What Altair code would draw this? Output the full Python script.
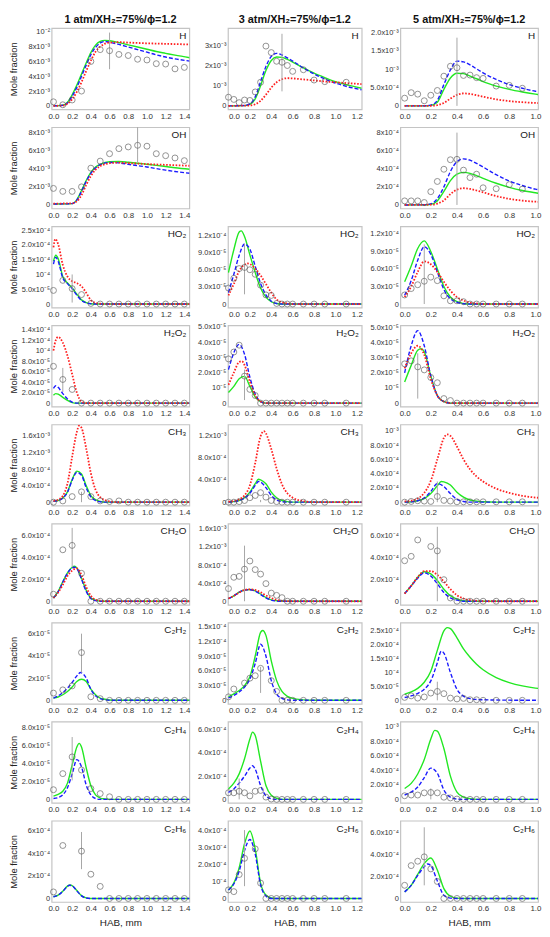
import altair as alt
import pandas as pd

COL_TITLES = ["1 atm/XH₂=75%/ϕ=1.2", "3 atm/XH₂=75%/ϕ=1.2", "5 atm/XH₂=75%/ϕ=1.2"]
PRESSURES = [1, 3, 5]
SPECIES = ["H", "OH", "HO2", "H2O2", "CH3", "CH2O", "C2H2", "C2H4", "C2H6"]
SPECIES_LABELS = ["H", "OH", "HO₂", "H₂O₂", "CH₃", "CH₂O", "C₂H₂", "C₂H₄", "C₂H₆"]

EXP_X_1 = [0.0, 0.1, 0.2, 0.3, 0.4, 0.5, 0.6, 0.7, 0.8, 0.9, 1.0, 1.1, 1.2, 1.3, 1.4]
EXP_X_3 = [0.0, 0.05, 0.1, 0.15, 0.2, 0.25, 0.3, 0.35, 0.4, 0.45, 0.5, 0.55, 0.6, 0.7, 0.8, 0.9, 1.1]
EXP_X_5 = [0.0, 0.05, 0.1, 0.15, 0.2, 0.25, 0.3, 0.35, 0.4, 0.45, 0.5, 0.55, 0.6, 0.7, 0.8, 0.9]
X_TICKS_1 = [0.0, 0.2, 0.4, 0.6, 0.8, 1.0, 1.2, 1.4]
X_TICKS_3 = [0.0, 0.2, 0.4, 0.6, 0.8, 1.0, 1.2]
X_TICKS_5 = [0.0, 0.2, 0.4, 0.6, 0.8, 1.0]
X_RANGE_1 = [-0.02, 1.453]
X_RANGE_3 = [-0.005, 1.245]
X_RANGE_5 = [-0.033, 1.02]

# ---------------- H (1e-3 / 1e-3 / 1e-4) ----------------
H_1_ticks = [0, 2, 4, 6, 8, 10]
H_1_labels = ["0", "2x10⁻³", "4x10⁻³", "6x10⁻³", "8x10⁻³", "10⁻²"]
H_1_ymax = 10.5
H_1_exp = [0.55, 0.15, 0.8, 2.0, 6.0, 7.6, 7.45, 6.95, 6.8, 6.3, 6.2, 5.7, 5.65, 5.0, 5.2]
H_1_err = [0.6, 4.95, 9.9]
H_1_green = [(0, 0), (0.1, 0.1), (0.15, 0.5), (0.2, 1.5), (0.25, 2.8), (0.3, 4.3), (0.35, 5.8), (0.4, 7.2), (0.45, 8.2), (0.5, 8.7), (0.55, 8.85), (0.6, 8.8), (0.7, 8.55), (0.8, 8.25), (0.9, 7.95), (1.0, 7.65), (1.1, 7.35), (1.2, 7.1), (1.3, 6.85), (1.46, 6.5)]
H_1_blue = [(0, 0), (0.1, 0.08), (0.15, 0.4), (0.2, 1.3), (0.25, 2.5), (0.3, 4.0), (0.35, 5.5), (0.4, 6.9), (0.45, 7.9), (0.5, 8.5), (0.55, 8.7), (0.6, 8.6), (0.7, 8.3), (0.8, 7.95), (0.9, 7.6), (1.0, 7.25), (1.1, 6.9), (1.2, 6.6), (1.3, 6.35), (1.46, 6.05)]
H_1_red = [(0, 0), (0.1, 0.05), (0.15, 0.3), (0.2, 0.9), (0.25, 1.9), (0.3, 3.2), (0.35, 4.7), (0.4, 6.1), (0.45, 7.3), (0.5, 8.0), (0.55, 8.4), (0.6, 8.55), (0.7, 8.6), (0.8, 8.55), (0.9, 8.5), (1.0, 8.45), (1.2, 8.38), (1.46, 8.3)]

H_3_ticks = [0, 1, 2, 3]
H_3_labels = ["0", "10⁻³", "2x10⁻³", "3x10⁻³"]
H_3_ymax = 3.85
H_3_exp = [0.43, 0.32, 0.16, 0.29, 0.27, 0.69, 1.17, 2.96, 2.64, 2.21, 2.16, 2.0, 1.71, 1.79, 1.28, 1.2, 1.17]
H_3_err = [0.5, 0.72, 3.57]
H_3_blue = [(0, 0), (0.15, 0.02), (0.2, 0.1), (0.25, 0.45), (0.3, 1.2), (0.35, 1.95), (0.4, 2.45), (0.45, 2.6), (0.5, 2.52), (0.55, 2.38), (0.6, 2.22), (0.7, 1.88), (0.8, 1.58), (0.9, 1.33), (1.0, 1.13), (1.1, 0.97), (1.245, 0.8)]
H_3_green = [(0, 0), (0.15, 0.01), (0.2, 0.07), (0.25, 0.35), (0.3, 1.0), (0.35, 1.75), (0.4, 2.25), (0.45, 2.42), (0.5, 2.4), (0.55, 2.3), (0.6, 2.17), (0.7, 1.88), (0.8, 1.62), (0.9, 1.4), (1.0, 1.2), (1.1, 1.05), (1.245, 0.87)]
H_3_red = [(0, 0), (0.2, 0.02), (0.25, 0.08), (0.3, 0.25), (0.35, 0.55), (0.4, 0.9), (0.45, 1.17), (0.5, 1.32), (0.55, 1.37), (0.6, 1.36), (0.7, 1.31), (0.8, 1.26), (0.9, 1.21), (1.0, 1.17), (1.1, 1.13), (1.245, 1.08)]

H_5_ticks = [0, 5, 10, 15, 20]
H_5_labels = ["0", "5.0x10⁻⁴", "10⁻³", "1.5x10⁻³", "2.0x10⁻³"]
H_5_ymax = 21.2
H_5_exp = [2.1, 3.6, 3.2, 1.4, 2.9, 4.2, 8.1, 10.8, 10.4, 8.3, 8.4, 7.7, 7.5, 5.4, 5.6, 4.8]
H_5_err = [0.4, 0.0, 18.6]
H_5_blue = [(0, 0), (0.15, 0.02), (0.2, 0.2), (0.25, 1.5), (0.3, 5.8), (0.35, 9.8), (0.4, 12.2), (0.45, 12.0), (0.5, 11.2), (0.55, 10.1), (0.6, 9.0), (0.7, 7.2), (0.8, 5.8), (0.9, 4.8), (1.0, 4.0), (1.02, 3.9)]
H_5_green = [(0, 0), (0.15, 0.01), (0.2, 0.15), (0.25, 1.0), (0.3, 4.5), (0.35, 7.6), (0.4, 8.9), (0.45, 8.8), (0.5, 8.1), (0.55, 7.4), (0.6, 6.6), (0.7, 5.4), (0.8, 4.5), (0.9, 3.8), (1.0, 3.2), (1.02, 3.1)]
H_5_red = [(0, 0), (0.2, 0.03), (0.25, 0.2), (0.3, 0.8), (0.35, 2.0), (0.4, 3.0), (0.45, 3.4), (0.5, 3.25), (0.55, 2.9), (0.6, 2.5), (0.7, 1.8), (0.8, 1.3), (0.9, 1.0), (1.0, 0.8), (1.02, 0.78)]

# ---------------- OH ----------------
OH_1_ticks = [0, 2, 4, 6, 8]
OH_1_labels = ["0", "2x10⁻³", "4x10⁻³", "6x10⁻³", "8x10⁻³"]
OH_1_ymax = 8.6
OH_1_exp = [1.83, 1.5, 1.5, 2.0, 4.07, 4.85, 5.67, 6.23, 6.42, 6.6, 6.5, 5.67, 5.45, 5.2, 4.9]
OH_1_err = [0.9, 4.7, 8.6]
OH_1_green = [(0, 0.1), (0.2, 0.15), (0.25, 0.6), (0.3, 1.6), (0.35, 2.7), (0.4, 3.6), (0.45, 4.2), (0.5, 4.5), (0.6, 4.78), (0.7, 4.8), (0.8, 4.72), (0.9, 4.62), (1.0, 4.5), (1.1, 4.38), (1.2, 4.25), (1.3, 4.12), (1.46, 3.95)]
OH_1_blue = [(0, 0.1), (0.2, 0.15), (0.25, 0.55), (0.3, 1.5), (0.35, 2.6), (0.4, 3.5), (0.45, 4.1), (0.5, 4.45), (0.6, 4.7), (0.7, 4.65), (0.8, 4.5), (0.9, 4.35), (1.0, 4.2), (1.1, 4.02), (1.2, 3.85), (1.3, 3.7), (1.46, 3.5)]
OH_1_red = [(0, 0.15), (0.2, 0.18), (0.25, 0.4), (0.3, 1.1), (0.35, 2.2), (0.4, 3.2), (0.45, 3.9), (0.5, 4.3), (0.55, 4.5), (0.6, 4.62), (0.7, 4.68), (0.8, 4.62), (0.9, 4.58), (1.0, 4.52), (1.2, 4.44), (1.46, 4.33)]

OH_3_exp = None

OH_5_ticks = [0, 2, 4, 6, 8]
OH_5_labels = ["0", "2x10⁻⁴", "4x10⁻⁴", "6x10⁻⁴", "8x10⁻⁴"]
OH_5_ymax = 8.6
OH_5_exp = [0.45, 0.45, 0.45, 0.27, 1.47, 2.6, 3.95, 5.0, 5.05, 3.85, 3.03, 3.4, 1.9, 1.8, 2.25, 1.75]
OH_5_err = [0.4, 0.0, 8.0]
OH_5_blue = [(0, 0), (0.15, 0.02), (0.2, 0.12), (0.25, 0.7), (0.3, 2.0), (0.35, 3.7), (0.4, 4.8), (0.45, 5.1), (0.5, 4.95), (0.55, 4.6), (0.6, 4.2), (0.7, 3.35), (0.8, 2.65), (0.9, 2.15), (1.0, 1.75), (1.02, 1.7)]
OH_5_green = [(0, 0), (0.15, 0.01), (0.2, 0.08), (0.25, 0.45), (0.3, 1.5), (0.35, 2.7), (0.4, 3.4), (0.45, 3.6), (0.5, 3.5), (0.55, 3.25), (0.6, 2.95), (0.7, 2.4), (0.8, 1.95), (0.9, 1.6), (1.0, 1.35), (1.02, 1.3)]
OH_5_red = [(0, 0), (0.2, 0.03), (0.25, 0.15), (0.3, 0.5), (0.35, 1.2), (0.4, 1.7), (0.45, 1.85), (0.5, 1.78), (0.55, 1.6), (0.6, 1.4), (0.7, 0.98), (0.8, 0.68), (0.9, 0.48), (1.0, 0.36), (1.02, 0.35)]

# ---------------- HO2 (1e-5) ----------------
HO2_1_ticks = [0, 5, 10, 15, 20, 25]
HO2_1_labels = ["0", "5.0x10⁻⁵", "10⁻⁴", "1.5x10⁻⁴", "2.0x10⁻⁴", "2.5x10⁻⁴"]
HO2_1_ymax = 26.3
HO2_1_exp = [4.6, 8.0, 5.2, 3.2, 0.2, 0, 0, 0, 0, 0, 0, 0, 0, 0, 0]
HO2_1_err = [0.2, 0.5, 10.0]
HO2_1_red = [(0, 19.2), (0.02, 22.0), (0.05, 20.3), (0.1, 13.2), (0.15, 9.3), (0.2, 7.7), (0.25, 7.1), (0.3, 6.0), (0.35, 3.8), (0.4, 1.3), (0.45, 0.4), (0.5, 0.1), (0.55, 0), (1.46, 0)]
HO2_1_green = [(0, 14.5), (0.025, 16.5), (0.05, 15.4), (0.1, 9.3), (0.15, 7.1), (0.2, 5.5), (0.25, 3.3), (0.3, 1.4), (0.35, 0.5), (0.4, 0.1), (0.45, 0), (1.46, 0)]
HO2_1_blue = [(0, 13.5), (0.025, 15.8), (0.05, 14.5), (0.1, 8.8), (0.15, 6.9), (0.2, 5.2), (0.25, 3.0), (0.3, 1.2), (0.35, 0.4), (0.4, 0.1), (0.45, 0), (1.46, 0)]

HO2_3_ticks = [0, 3, 6, 9, 12]
HO2_3_labels = ["0", "3.0x10⁻⁵", "6.0x10⁻⁵", "9.0x10⁻⁵", "1.2x10⁻⁴"]
HO2_3_ymax = 13.6
HO2_3_exp = [2.8, 4.5, 6.2, 6.4, 6.0, 5.2, 3.3, 1.6, 1.5, 0.1, 0, 0, 0, 0, 0, 0, 0]
HO2_3_err = [0.15, 1.7, 10.5]
HO2_3_green = [(0, 5.5), (0.05, 9.5), (0.1, 12.6), (0.12, 12.8), (0.15, 11.8), (0.2, 8.6), (0.25, 5.5), (0.3, 2.8), (0.35, 1.2), (0.4, 0.4), (0.45, 0.1), (0.5, 0), (1.245, 0)]
HO2_3_blue = [(0, 2.0), (0.05, 5.2), (0.1, 8.5), (0.15, 10.5), (0.2, 9.6), (0.25, 6.6), (0.3, 3.6), (0.35, 1.6), (0.4, 0.5), (0.45, 0.1), (0.5, 0), (1.245, 0)]
HO2_3_red = [(0, 1.5), (0.05, 3.5), (0.1, 5.8), (0.15, 6.9), (0.175, 7.1), (0.2, 7.0), (0.25, 6.2), (0.3, 5.0), (0.35, 3.5), (0.4, 2.0), (0.45, 0.8), (0.5, 0.3), (0.55, 0.1), (0.6, 0), (1.245, 0)]

HO2_5_ticks = [0, 3, 6, 9, 12]
HO2_5_labels = ["0", "3.0x10⁻⁵", "6.0x10⁻⁵", "9.0x10⁻⁵", "1.2x10⁻⁴"]
HO2_5_ymax = 13.3
HO2_5_exp = [1.55, 2.65, 3.3, 3.9, 4.6, 4.0, 1.4, 0.55, 0.55, 0.4, 0, 0, 0, 0, 0, 0]
HO2_5_err = [0.15, 0.0, 10.2]
HO2_5_green = [(0, 3.8), (0.05, 6.5), (0.1, 9.5), (0.15, 10.8), (0.2, 9.0), (0.25, 6.0), (0.3, 3.0), (0.35, 1.2), (0.4, 0.4), (0.45, 0.1), (0.5, 0), (1.02, 0)]
HO2_5_blue = [(0, 1.5), (0.05, 4.0), (0.1, 7.5), (0.15, 9.8), (0.2, 8.5), (0.25, 5.5), (0.3, 2.5), (0.35, 0.9), (0.4, 0.3), (0.45, 0.05), (0.5, 0), (1.02, 0)]
HO2_5_red = [(0, 1.2), (0.05, 3.0), (0.1, 5.5), (0.15, 7.3), (0.2, 6.8), (0.25, 5.5), (0.3, 3.8), (0.35, 2.3), (0.4, 1.2), (0.45, 0.6), (0.5, 0.25), (0.55, 0.1), (0.6, 0), (1.02, 0)]

# ---------------- H2O2 (1e-5) ----------------
H2O2_1_ticks = [0, 2, 4, 6, 8, 10, 12, 14]
H2O2_1_labels = ["0", "2.0x10⁻⁵", "4.0x10⁻⁵", "6.0x10⁻⁵", "8.0x10⁻⁵", "10⁻⁴", "1.2x10⁻⁴", "1.4x10⁻⁴"]
H2O2_1_ymax = 14.8
H2O2_1_exp = [7.0, 4.5, 2.6, 0, 0, 0, 0, 0, 0, 0, 0, 0, 0, 0, 0]
H2O2_1_err = [0.1, 2.1, 6.7]
H2O2_1_red = [(0, 10.0), (0.025, 12.0), (0.05, 12.6), (0.1, 11.5), (0.15, 9.0), (0.2, 5.5), (0.25, 2.0), (0.3, 0.3), (0.35, 0), (1.46, 0)]
H2O2_1_blue = [(0, 2.8), (0.025, 3.3), (0.05, 3.0), (0.1, 1.8), (0.15, 0.8), (0.2, 0.2), (0.25, 0), (1.46, 0)]
H2O2_1_green = [(0, 1.5), (0.025, 1.8), (0.05, 1.7), (0.1, 1.1), (0.15, 0.5), (0.2, 0.1), (0.25, 0), (1.46, 0)]

H2O2_3_ticks = [0, 1, 2, 3, 4, 5]
H2O2_3_labels = ["0", "10⁻⁵", "2.0x10⁻⁵", "3.0x10⁻⁵", "4.0x10⁻⁵", "5.0x10⁻⁵"]
H2O2_3_ymax = 5.1
H2O2_3_exp = [2.9, 3.35, 3.8, 1.77, 0.9, 0.5, 0, 0, 0, 0, 0, 0, 0, 0, 0, 0, 0]
H2O2_3_err = [0.15, 0.2, 2.2]
H2O2_3_blue = [(0, 2.2), (0.05, 3.3), (0.1, 3.85), (0.15, 3.2), (0.2, 1.7), (0.25, 0.6), (0.3, 0.1), (0.35, 0), (1.245, 0)]
H2O2_3_red = [(0, 1.2), (0.05, 2.0), (0.1, 2.7), (0.125, 2.75), (0.15, 2.5), (0.2, 1.4), (0.25, 0.5), (0.3, 0.1), (0.35, 0), (1.245, 0)]
H2O2_3_green = [(0, 0.7), (0.05, 1.1), (0.1, 1.6), (0.15, 1.75), (0.2, 1.1), (0.25, 0.4), (0.3, 0.1), (0.35, 0), (1.245, 0)]

H2O2_5_ticks = [0, 1, 2, 3, 4, 5]
H2O2_5_labels = ["0", "10⁻⁵", "2.0x10⁻⁵", "3.0x10⁻⁵", "4.0x10⁻⁵", "5.0x10⁻⁵"]
H2O2_5_ymax = 5.15
H2O2_5_exp = [2.6, 2.8, 2.4, 2.2, 1.7, 1.35, 0.3, 0.17, 0, 0, 0, 0, 0, 0, 0, 0]
H2O2_5_err = [0.1, 0.3, 3.3]
H2O2_5_blue = [(0, 2.0), (0.05, 3.8), (0.1, 4.8), (0.15, 3.8), (0.2, 1.8), (0.25, 0.5), (0.3, 0.1), (0.35, 0), (1.02, 0)]
H2O2_5_red = [(0, 2.3), (0.05, 3.3), (0.1, 3.8), (0.15, 3.2), (0.2, 1.6), (0.25, 0.5), (0.3, 0.1), (0.35, 0), (1.02, 0)]
H2O2_5_green = [(0, 1.4), (0.05, 2.5), (0.1, 3.5), (0.125, 3.6), (0.15, 3.4), (0.2, 1.8), (0.25, 0.5), (0.3, 0.1), (0.35, 0), (1.02, 0)]

# ---------------- CH3 (1e-4) ----------------
CH3_1_ticks = [0, 4, 8, 12, 16]
CH3_1_labels = ["0", "4.0x10⁻⁴", "8.0x10⁻⁴", "1.2x10⁻³", "1.6x10⁻³"]
CH3_1_ymax = 18.8
CH3_1_exp = [0, 0.3, 1.35, 2.5, 1.35, 0.3, 0.15, 0.3, 0, 0, 0, 0, 0, 0, 0]
CH3_1_err = [0.3, 0.0, 2.5]
CH3_1_red = [(0, 0.3), (0.05, 0.6), (0.1, 1.5), (0.15, 4.5), (0.2, 11.0), (0.25, 17.0), (0.275, 18.5), (0.3, 18.0), (0.35, 13.0), (0.4, 7.0), (0.45, 3.0), (0.5, 1.2), (0.55, 0.5), (0.6, 0.2), (0.7, 0), (1.46, 0)]
CH3_1_green = [(0, 0.2), (0.05, 0.4), (0.1, 1.0), (0.15, 2.5), (0.2, 5.5), (0.25, 7.5), (0.3, 6.8), (0.35, 4.0), (0.4, 1.6), (0.45, 0.6), (0.5, 0.2), (0.55, 0), (1.46, 0)]
CH3_1_blue = [(0, 0.2), (0.05, 0.4), (0.1, 1.0), (0.15, 2.4), (0.2, 5.3), (0.25, 7.2), (0.3, 6.5), (0.35, 3.5), (0.4, 1.3), (0.45, 0.4), (0.5, 0.1), (0.55, 0), (1.46, 0)]

CH3_3_ticks = [0, 4, 8, 12]
CH3_3_labels = ["0", "4.0x10⁻⁴", "8.0x10⁻⁴", "1.2x10⁻³"]
CH3_3_ymax = 13.9
CH3_3_exp = [0, 0, 0.1, 0.3, 0.8, 1.2, 1.7, 0.9, 0.3, 0.1, 0, 0, 0, 0, 0, 0, 0]
CH3_3_err = [0.3, 0.0, 0.4]
CH3_3_red = [(0, 0.1), (0.05, 0.2), (0.1, 0.5), (0.15, 1.2), (0.2, 3.0), (0.25, 7.0), (0.3, 11.8), (0.33, 12.7), (0.35, 12.3), (0.4, 9.5), (0.45, 6.0), (0.5, 3.2), (0.55, 1.6), (0.6, 0.8), (0.7, 0.2), (0.8, 0), (1.245, 0)]
CH3_3_green = [(0, 0), (0.05, 0.1), (0.1, 0.3), (0.15, 0.8), (0.2, 1.8), (0.25, 3.3), (0.28, 4.1), (0.3, 4.0), (0.35, 3.3), (0.4, 1.8), (0.45, 0.8), (0.5, 0.3), (0.55, 0.1), (0.6, 0), (1.245, 0)]
CH3_3_blue = [(0, 0), (0.05, 0.1), (0.1, 0.3), (0.15, 0.7), (0.2, 1.6), (0.25, 3.0), (0.28, 3.7), (0.3, 3.6), (0.35, 2.6), (0.4, 1.2), (0.45, 0.4), (0.5, 0.1), (0.55, 0), (1.245, 0)]

CH3_5_ticks = [0, 2, 4, 6, 8, 10]
CH3_5_labels = ["0", "2.0x10⁻⁴", "4.0x10⁻⁴", "6.0x10⁻⁴", "8.0x10⁻⁴", "10⁻³"]
CH3_5_ymax = 10.9
CH3_5_exp = [0, 0.1, 0.2, 0.15, 0.1, 0.8, 0.25, 0.15, 0.05, 0.05, 0.05, 0.05, 0.05, 0.05, 0.05, 0.05]
CH3_5_err = [0.25, 0.0, 2.9]
CH3_5_red = [(0, 0.1), (0.05, 0.2), (0.1, 0.5), (0.15, 1.3), (0.2, 3.0), (0.25, 6.0), (0.3, 9.0), (0.325, 9.5), (0.35, 9.3), (0.4, 7.8), (0.45, 6.0), (0.5, 4.6), (0.55, 3.6), (0.6, 2.9), (0.7, 1.9), (0.8, 1.3), (0.9, 0.9), (1.0, 0.65), (1.02, 0.62)]
CH3_5_green = [(0, 0), (0.05, 0.05), (0.1, 0.2), (0.15, 0.5), (0.2, 1.2), (0.25, 2.3), (0.28, 2.9), (0.3, 2.85), (0.35, 2.4), (0.4, 1.4), (0.45, 0.7), (0.5, 0.3), (0.55, 0.15), (0.6, 0.05), (0.7, 0), (1.02, 0)]
CH3_5_blue = [(0, 0), (0.05, 0.05), (0.1, 0.2), (0.15, 0.6), (0.2, 1.5), (0.25, 2.6), (0.3, 2.2), (0.35, 1.2), (0.4, 0.4), (0.45, 0.1), (0.5, 0), (1.02, 0)]

# ---------------- CH2O (1e-4) ----------------
CH2O_1_ticks = [0, 2, 4, 6]
CH2O_1_labels = ["0", "2.0x10⁻⁴", "4.0x10⁻⁴", "6.0x10⁻⁴"]
CH2O_1_ymax = 7.1
CH2O_1_exp = [0.64, 4.7, 5.1, 2.55, 0, 0, 0, 0, 0, 0, 0, 0, 0, 0, 0]
CH2O_1_err = [0.2, 3.1, 6.7]
CH2O_1_green = [(0, 0.3), (0.05, 0.9), (0.1, 1.8), (0.15, 2.6), (0.2, 3.1), (0.225, 3.2), (0.25, 3.05), (0.3, 2.1), (0.35, 1.0), (0.4, 0.3), (0.45, 0.1), (0.5, 0), (1.46, 0)]
CH2O_1_blue = [(0, 0.3), (0.05, 0.85), (0.1, 1.75), (0.15, 2.55), (0.2, 3.05), (0.225, 3.1), (0.25, 3.0), (0.3, 2.0), (0.35, 0.9), (0.4, 0.25), (0.45, 0.05), (0.5, 0), (1.46, 0)]
CH2O_1_red = [(0, 0.3), (0.05, 0.8), (0.1, 1.5), (0.15, 2.3), (0.2, 2.8), (0.25, 3.0), (0.3, 2.4), (0.35, 1.3), (0.4, 0.5), (0.45, 0.15), (0.5, 0.05), (0.55, 0), (1.46, 0)]

CH2O_3_ticks = [0, 4, 8, 12, 16]
CH2O_3_labels = ["0", "4.0x10⁻⁴", "8.0x10⁻⁴", "1.2x10⁻³", "1.6x10⁻³"]
CH2O_3_ymax = 17.2
CH2O_3_exp = [2.8, 5.3, 5.5, 7.1, 8.9, 7.0, 6.0, 3.9, 1.8, 1.3, 0.8, 0, 0, 0, 0, 0, 0]
CH2O_3_err = [0.15, 0.0, 12.3]
CH2O_3_green = [(0, 0.6), (0.05, 1.2), (0.1, 2.0), (0.15, 2.5), (0.2, 2.6), (0.25, 2.3), (0.3, 1.6), (0.35, 0.8), (0.4, 0.3), (0.45, 0.1), (0.5, 0), (1.245, 0)]
CH2O_3_blue = [(0, 0.6), (0.05, 1.2), (0.1, 2.0), (0.15, 2.5), (0.2, 2.55), (0.25, 2.25), (0.3, 1.5), (0.35, 0.75), (0.4, 0.25), (0.45, 0.05), (0.5, 0), (1.245, 0)]
CH2O_3_red = [(0, 0.6), (0.05, 1.2), (0.1, 1.9), (0.15, 2.5), (0.2, 2.65), (0.25, 2.5), (0.3, 2.0), (0.35, 1.3), (0.4, 0.7), (0.45, 0.3), (0.5, 0.1), (0.55, 0.03), (0.6, 0), (1.245, 0)]

CH2O_5_ticks = [0, 2, 4, 6]
CH2O_5_labels = ["0", "2.0x10⁻⁴", "4.0x10⁻⁴", "6.0x10⁻⁴"]
CH2O_5_ymax = 7.1
CH2O_5_exp = [3.7, 4.1, 5.6, None, 5.0, 4.6, 1.97, 0.3, 0, 0, 0, 0, 0, 0, 0, 0]
CH2O_5_err = [0.25, 0.0, 6.8]
CH2O_5_red = [(0, 0.7), (0.05, 1.4), (0.1, 2.2), (0.15, 2.75), (0.2, 2.75), (0.25, 2.4), (0.3, 1.8), (0.35, 1.1), (0.4, 0.55), (0.45, 0.25), (0.5, 0.1), (0.55, 0.04), (0.6, 0), (1.02, 0)]
CH2O_5_green = [(0, 0.7), (0.05, 1.4), (0.1, 2.2), (0.15, 2.7), (0.2, 2.5), (0.25, 1.9), (0.3, 1.1), (0.35, 0.5), (0.4, 0.2), (0.45, 0.05), (0.5, 0), (1.02, 0)]
CH2O_5_blue = [(0, 0.7), (0.05, 1.4), (0.1, 2.1), (0.15, 2.6), (0.2, 2.3), (0.25, 1.6), (0.3, 0.8), (0.35, 0.3), (0.4, 0.1), (0.45, 0), (1.02, 0)]

# ---------------- C2H2 (1e-5) ----------------
C2H2_1_ticks = [0, 2, 4, 6]
C2H2_1_labels = ["0", "2x10⁻⁵", "4x10⁻⁵", "6x10⁻⁵"]
C2H2_1_ymax = 7.0
C2H2_1_exp = [0.65, 0.94, 1.3, 4.3, 0.32, 0.15, 0, 0, 0, 0, 0, 0, 0, 0, 0]
C2H2_1_err = [0.3, 2.5, 6.0]
C2H2_1_blue = [(0, 0.2), (0.05, 0.4), (0.1, 0.7), (0.15, 1.1), (0.2, 1.6), (0.25, 2.2), (0.29, 2.5), (0.3, 2.48), (0.35, 2.0), (0.4, 1.0), (0.45, 0.4), (0.5, 0.15), (0.55, 0.05), (0.6, 0), (1.46, 0)]
C2H2_1_green = [(0, 0.2), (0.05, 0.3), (0.1, 0.5), (0.15, 0.8), (0.2, 1.2), (0.25, 1.7), (0.3, 1.9), (0.35, 1.7), (0.4, 1.0), (0.45, 0.5), (0.5, 0.2), (0.55, 0.1), (0.6, 0.03), (0.65, 0), (1.46, 0)]

C2H2_3_ticks = [0, 3, 6, 9, 12, 15]
C2H2_3_labels = ["0", "3.0x10⁻⁵", "6.0x10⁻⁵", "9.0x10⁻⁵", "1.2x10⁻⁴", "1.5x10⁻⁴"]
C2H2_3_ymax = 15.8
C2H2_3_exp = [0.7, 2.3, None, 3.5, 4.5, 5.0, 6.5, None, 4.0, 1.8, 0, 0, 0, 0, 0, 0, 0]
C2H2_3_err = [0.3, 1.5, 6.8]
C2H2_3_green = [(0, 0.7), (0.05, 1.3), (0.1, 2.0), (0.15, 3.0), (0.2, 4.8), (0.25, 9.0), (0.3, 13.8), (0.32, 14.2), (0.35, 13.2), (0.4, 8.0), (0.45, 4.0), (0.5, 1.8), (0.55, 0.8), (0.6, 0.4), (0.7, 0.1), (0.8, 0), (1.245, 0)]
C2H2_3_blue = [(0, 0.5), (0.05, 1.0), (0.1, 1.7), (0.15, 2.7), (0.2, 4.3), (0.25, 7.5), (0.3, 11.4), (0.35, 9.0), (0.4, 4.0), (0.45, 1.3), (0.5, 0.4), (0.55, 0.1), (0.6, 0), (1.245, 0)]

C2H2_5_ticks = [0, 5, 10, 15, 20, 25]
C2H2_5_labels = ["0", "5.0x10⁻⁵", "10⁻⁴", "1.5x10⁻⁴", "2.0x10⁻⁴", "2.5x10⁻⁴"]
C2H2_5_ymax = 28.0
C2H2_5_exp = [1.05, 1.6, 0.8, 1.2, 2.6, 3.2, 2.4, 0.8, 0.5, 0.7, 0.2, 0.2, 0, 0, 0, 0]
C2H2_5_err = [0.25, 0.0, 6.7]
C2H2_5_green = [(0, 2.2), (0.05, 3.0), (0.1, 4.3), (0.15, 6.5), (0.2, 10.5), (0.25, 18.0), (0.3, 25.0), (0.325, 26.2), (0.35, 25.8), (0.4, 22.5), (0.45, 18.5), (0.5, 15.5), (0.55, 13.0), (0.6, 11.0), (0.7, 8.2), (0.8, 6.4), (0.9, 5.2), (1.0, 4.4), (1.02, 4.3)]
C2H2_5_blue = [(0, 1.0), (0.05, 1.6), (0.1, 2.5), (0.15, 4.0), (0.2, 7.0), (0.25, 13.5), (0.28, 17.7), (0.3, 17.0), (0.35, 10.0), (0.4, 4.0), (0.45, 1.5), (0.5, 0.6), (0.55, 0.3), (0.6, 0.2), (0.7, 0.1), (0.8, 0.05), (0.9, 0), (1.02, 0)]

# ---------------- C2H4 ----------------
C2H4_1_ticks = [0, 2, 4, 6, 8]
C2H4_1_labels = ["0", "2.0x10⁻⁵", "4.0x10⁻⁵", "6.0x10⁻⁵", "8.0x10⁻⁵"]
C2H4_1_ymax = 8.6
C2H4_1_exp = [1.07, 2.85, 4.7, 3.25, 1.2, 0.64, 0.29, 0, 0, 0, 0, 0, 0, 0, 0]
C2H4_1_err = [0.2, 2.1, 6.9]
C2H4_1_green = [(0, 0.36), (0.05, 0.55), (0.1, 0.9), (0.15, 1.8), (0.2, 3.8), (0.25, 5.8), (0.275, 6.2), (0.3, 5.8), (0.35, 3.5), (0.4, 1.5), (0.45, 0.5), (0.5, 0.15), (0.55, 0.05), (0.6, 0), (1.46, 0)]
C2H4_1_blue = [(0, 0.1), (0.05, 0.2), (0.1, 0.5), (0.15, 1.3), (0.2, 2.8), (0.25, 4.4), (0.3, 3.6), (0.35, 1.6), (0.4, 0.5), (0.45, 0.1), (0.5, 0), (1.46, 0)]

C2H4_3_ticks = [0, 2, 4, 6]
C2H4_3_labels = ["0", "2.0x10⁻⁴", "4.0x10⁻⁴", "6.0x10⁻⁴"]
C2H4_3_ymax = 6.7
C2H4_3_exp = [0.57, 0.57, 0.7, 0.57, 0.3, 0.7, 0.77, 0.2, 0.03, 0, 0, 0, 0, 0, 0, 0, 0]
C2H4_3_err = [0.1, 0.0, 1.8]
C2H4_3_green = [(0, 0.9), (0.05, 1.4), (0.1, 2.2), (0.15, 3.5), (0.2, 5.2), (0.225, 5.8), (0.25, 5.5), (0.3, 3.3), (0.35, 1.2), (0.4, 0.35), (0.45, 0.1), (0.5, 0), (1.245, 0)]
C2H4_3_blue = [(0, 0.6), (0.05, 0.9), (0.1, 1.4), (0.15, 2.0), (0.2, 2.7), (0.225, 2.9), (0.25, 2.6), (0.3, 1.2), (0.35, 0.3), (0.4, 0.05), (0.45, 0), (1.245, 0)]

C2H4_5_ticks = [0, 2, 4, 6, 8, 10]
C2H4_5_labels = ["0", "2.0x10⁻⁴", "4.0x10⁻⁴", "6.0x10⁻⁴", "8.0x10⁻⁴", "10⁻³"]
C2H4_5_ymax = 10.7
C2H4_5_exp = [0.5, 0.6, 0.6, 0.9, 0.95, 0.9, 0.3, 0.2, 0.05, 0, 0, 0, 0, 0, 0, 0]
C2H4_5_err = [0.2, 0.0, 1.5]
C2H4_5_green = [(0, 1.5), (0.05, 2.2), (0.1, 3.5), (0.15, 5.5), (0.2, 8.3), (0.23, 9.5), (0.25, 9.4), (0.3, 7.0), (0.35, 3.2), (0.4, 1.0), (0.45, 0.3), (0.5, 0.1), (0.55, 0), (1.02, 0)]
C2H4_5_blue = [(0, 0.6), (0.05, 1.0), (0.1, 1.7), (0.15, 3.0), (0.2, 4.3), (0.25, 3.6), (0.3, 1.3), (0.35, 0.3), (0.4, 0.05), (0.45, 0), (1.02, 0)]

# ---------------- C2H6 (1e-4) ----------------
C2H6_1_ticks = [0, 2, 4, 6]
C2H6_1_labels = ["0", "2x10⁻⁴", "4x10⁻⁴", "6x10⁻⁴"]
C2H6_1_ymax = 6.9
C2H6_1_exp = [0.58, 4.7, None, 4.2, 2.15, 1.07, 0, 0, 0, 0, 0, 0, 0, 0, 0]
C2H6_1_err = [0.3, 2.6, 5.9]
C2H6_1_green = [(0, 0.15), (0.05, 0.3), (0.1, 0.65), (0.15, 1.1), (0.175, 1.2), (0.2, 1.15), (0.25, 0.7), (0.3, 0.25), (0.35, 0.05), (0.4, 0), (1.46, 0)]
C2H6_1_blue = [(0, 0.15), (0.05, 0.3), (0.1, 0.63), (0.15, 1.08), (0.175, 1.17), (0.2, 1.12), (0.25, 0.68), (0.3, 0.23), (0.35, 0.04), (0.4, 0), (1.46, 0)]

C2H6_3_ticks = [0, 1, 2, 3, 4]
C2H6_3_labels = ["0", "10⁻⁴", "2.0x10⁻⁴", "3.0x10⁻⁴", "4.0x10⁻⁴"]
C2H6_3_ymax = 4.55
C2H6_3_exp = [0.5, 0.4, 1.4, 2.35, None, 2.9, 0.9, 0, 0, 0, 0, 0, 0, 0, 0, 0, 0]
C2H6_3_err = [0.15, 0.72, 4.0]
C2H6_3_green = [(0, 0.5), (0.05, 0.9), (0.1, 1.8), (0.15, 3.2), (0.2, 3.95), (0.25, 2.9), (0.3, 0.9), (0.35, 0.2), (0.4, 0.03), (0.45, 0), (1.245, 0)]
C2H6_3_blue = [(0, 0.5), (0.05, 0.85), (0.1, 1.6), (0.15, 2.8), (0.2, 3.45), (0.25, 2.6), (0.3, 0.8), (0.35, 0.15), (0.4, 0), (1.245, 0)]

C2H6_5_ticks = [0, 2, 4, 6]
C2H6_5_labels = ["0", "2.0x10⁻⁴", "4.0x10⁻⁴", "6.0x10⁻⁴"]
C2H6_5_ymax = 7.1
C2H6_5_exp = [1.2, 3.0, 3.4, 3.8, 2.7, 1.55, 0, 0, 0, 0, 0, 0, 0, 0, 0, 0]
C2H6_5_err = [0.15, 1.2, 6.5]
C2H6_5_green = [(0, 0.6), (0.05, 1.2), (0.1, 2.2), (0.15, 3.2), (0.2, 3.7), (0.25, 2.6), (0.3, 0.9), (0.35, 0.2), (0.4, 0.03), (0.45, 0), (1.02, 0)]
C2H6_5_blue = [(0, 0.6), (0.05, 1.2), (0.1, 2.1), (0.15, 2.9), (0.175, 3.15), (0.2, 3.0), (0.25, 1.6), (0.3, 0.3), (0.35, 0.03), (0.4, 0), (1.02, 0)]

# ---------------- layout / style ----------------
PANEL_W = [139, 135, 139]
PANEL_H = 82
EXP_XS = [EXP_X_1, EXP_X_3, EXP_X_5]
X_TICKS = [X_TICKS_1, X_TICKS_3, X_TICKS_5]
X_RANGES = [X_RANGE_1, X_RANGE_3, X_RANGE_5]
LINE_STYLES = [
    ("green", "#22e822", None, 1.4),
    ("blue", "#1a1aff", [4, 2], 1.4),
    ("red", "#ff2020", [1.6, 1.6], 1.8),
]


def label_expr(ticks, labels):
    e = "''"
    for t, l in reversed(list(zip(ticks, labels))):
        e = "datum.value == %s ? '%s' : %s" % (repr(t), l, e)
    return e


def make_panel(ri, ci, sp, splabel, p):
    g = globals()
    w = PANEL_W[ci]
    exp = g.get(f"{sp}_{p}_exp")
    if exp is None:
        return alt.Chart(pd.DataFrame({"x": [0.0]})).mark_point(opacity=0).encode(
            x=alt.X("x:Q", axis=None), y=alt.Y("x:Q", axis=None)
        ).properties(width=w, height=PANEL_H, view=alt.ViewBackground(stroke="transparent"))

    ticks = g[f"{sp}_{p}_ticks"]
    labels = g[f"{sp}_{p}_labels"]
    ymax = g[f"{sp}_{p}_ymax"]
    err = g[f"{sp}_{p}_err"]

    xscale = alt.Scale(domain=X_RANGES[ci], nice=False, zero=False)
    yscale = alt.Scale(domain=[-0.045 * ymax, ymax], nice=False, zero=False)
    xaxis_kw = dict(values=X_TICKS[ci], format=".1f", labelFontSize=8, labelColor="#333",
                    labelPadding=3, grid=False, ticks=False, domain=False)
    if ri == len(SPECIES) - 1:
        xaxis_kw.update(title="HAB, mm", titleFontSize=10, titleFontWeight="normal",
                        titleColor="#222", titlePadding=5)
    else:
        xaxis_kw.update(title=None)
    yaxis_kw = dict(values=ticks, labelExpr=label_expr(ticks, labels), labelFontSize=7.5,
                    labelColor="#333", labelPadding=2, grid=False, ticks=False, domain=False)
    if ci == 0:
        yaxis_kw.update(title="Mole fraction", titleFontSize=9.5, titleFontWeight="normal",
                        titleColor="#222", titleX=-33, titleY=PANEL_H / 2)
    else:
        yaxis_kw.update(title=None)
    xaxis = alt.Axis(**xaxis_kw)
    yaxis = alt.Axis(**yaxis_kw)

    def X(f):
        return alt.X(f"{f}:Q", scale=xscale, axis=xaxis)

    def Y(f):
        return alt.Y(f"{f}:Q", scale=yscale, axis=yaxis)

    layers = []
    for name, color, dash, sw in LINE_STYLES:
        pts = g.get(f"{sp}_{p}_{name}")
        if pts is None:
            continue
        df = pd.DataFrame(pts, columns=["x", "y"])
        kw = dict(clip=True, interpolate="monotone", color=color, strokeWidth=sw)
        if dash is not None:
            kw["strokeDash"] = dash
        layers.append(alt.Chart(df).mark_line(**kw).encode(x=X("x"), y=Y("y")))

    df_err = pd.DataFrame({"x": [err[0]], "y": [err[1]], "y2": [err[2]]})
    layers.append(alt.Chart(df_err).mark_rule(color="#a6a6a6", strokeWidth=1).encode(
        x=X("x"), y=Y("y"), y2=alt.Y2("y2:Q")))

    df_exp = pd.DataFrame({"x": EXP_XS[ci], "y": exp}).dropna()
    layers.append(alt.Chart(df_exp).mark_point(shape="circle", filled=False, size=36,
                                               color="#555555", strokeWidth=0.9).encode(x=X("x"), y=Y("y")))

    df_lab = pd.DataFrame({"t": [splabel]})
    layers.append(alt.Chart(df_lab).mark_text(align="right", baseline="alphabetic", fontSize=10,
                                              color="#222").encode(
        x=alt.value(w - 3), y=alt.value(11), text="t:N"))

    ch = alt.layer(*layers).properties(width=w, height=PANEL_H)
    if ri == 0:
        ch = ch.properties(title=alt.TitleParams(COL_TITLES[ci], anchor="middle", fontSize=11,
                                                 fontWeight="bold", offset=3, color="#111"))
    return ch


panels = []
for ri, (sp, splabel) in enumerate(zip(SPECIES, SPECIES_LABELS)):
    for ci, p in enumerate(PRESSURES):
        panels.append(make_panel(ri, ci, sp, splabel, p))

chart = alt.concat(*panels, columns=3, spacing={"row": 18, "column": 39},
                   bounds="flush", align="each").configure(
    font="Liberation Sans", padding={"left": 0, "top": 1, "right": 0, "bottom": 0}
).configure_view(stroke="#c4c4c4", strokeWidth=1.2)

chart.save("out.html", embed_options={"renderer": "svg", "actions": False})
